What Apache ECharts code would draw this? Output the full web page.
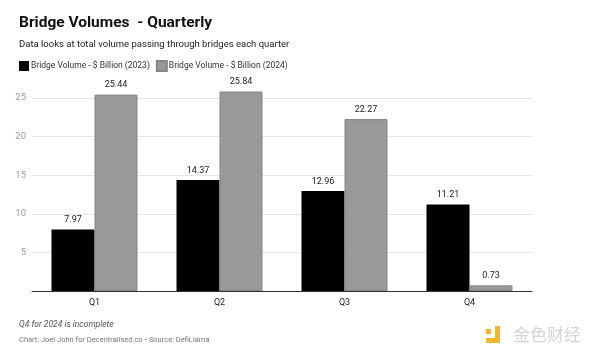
<!DOCTYPE html>
<html><head><meta charset="utf-8">
<script src="https://cdn.jsdelivr.net/npm/echarts@6/dist/echarts.min.js"></script>
<style>html,body{margin:0;padding:0;background:#fff}#c{width:600px;height:364px}</style>
</head><body><div id="c"></div>
<script>
var categories = ['Q1', 'Q2', 'Q3', 'Q4'];
var vol2023 = [7.97, 14.37, 12.96, 11.21];
var vol2024 = [25.44, 25.84, 22.27, 0.73];
var seriesNames = ['Bridge Volume - $ Billion (2023)', 'Bridge Volume - $ Billion (2024)'];
var yTicks = [5, 10, 15, 20, 25];

var chart = echarts.init(document.getElementById('c'));
var font = 'Roboto, "Noto Sans", sans-serif';
chart.setOption({
  backgroundColor: '#fff',
  animation: false,
  textStyle: { fontFamily: font },
  title: {
    text: 'Bridge Volumes  - Quarterly',
    subtext: 'Data looks at total volume passing through bridges each quarter',
    left: 14, top: 10, itemGap: 9,
    textStyle: { fontSize: 15.5, fontWeight: 'bold', color: '#111', fontFamily: font },
    subtextStyle: { fontSize: 9.5, color: '#222', fontFamily: font }
  },
  legend: {
    left: 14, top: 55, itemWidth: 10, itemHeight: 10, itemGap: 6, icon: 'rect',
    textStyle: { fontSize: 8.5, color: '#333', fontFamily: font, padding: [0, 0, 0, -3] },
    data: seriesNames
  },
  grid: { left: 32, right: 68, top: 98, bottom: 73 },
  xAxis: {
    type: 'category', data: categories,
    axisLine: { lineStyle: { color: '#333', width: 1 } },
    axisTick: { show: false },
    axisLabel: { fontSize: 9, color: '#222', margin: 7 }
  },
  yAxis: {
    type: 'value', min: 0, max: 25, interval: 5,
    axisLine: { show: false }, axisTick: { show: false },
    axisLabel: { fontSize: 9.5, color: '#9a9a9a', margin: 6,
      formatter: function (v) { return yTicks.indexOf(v) >= 0 ? String(v) : ''; } },
    splitLine: { lineStyle: { color: '#e6e6e6', width: 1 } }
  },
  series: [
    { name: seriesNames[0], type: 'bar', data: vol2023, barWidth: 43, barGap: '0%', clip: false,
      itemStyle: { color: '#000' },
      label: { show: true, position: 'top', distance: 5, fontSize: 9, color: '#222',
        formatter: function (p) { return p.value.toFixed(2); } } },
    { name: seriesNames[1], type: 'bar', data: vol2024, barWidth: 43, clip: false,
      itemStyle: { color: '#999', borderColor: '#858585', borderWidth: 1 },
      label: { show: true, position: 'top', distance: 5, fontSize: 9, color: '#222',
        formatter: function (p) { return p.value.toFixed(2); } } }
  ],
  graphic: [
    { type: 'text', left: 19, top: 320, style: { text: 'Q4 for 2024 is incomplete', fontSize: 8.5, fontStyle: 'italic', fill: '#555', fontFamily: font } },
    { type: 'text', left: 19, top: 336, style: { text: 'Chart: Joel John for Decentralised.co \u2022 Source: DefiLlama', fontSize: 7.5, fill: '#777', fontFamily: font } },
    { type: 'rect', shape: { x: 486, y: 338, width: 14, height: 5 }, style: { fill: '#f2b632' } },
    { type: 'rect', shape: { x: 495, y: 326, width: 5, height: 17 }, style: { fill: '#f2b632' } },
    { type: 'rect', shape: { x: 486, y: 329, width: 5, height: 5 }, style: { fill: '#f2b632' } },
    { type: 'text', left: 513, top: 326, style: { text: '金色财经', fontSize: 17, fill: '#d4d4d4', fontFamily: '"Noto Sans CJK SC", sans-serif' } }
  ]
});
</script></body></html>
